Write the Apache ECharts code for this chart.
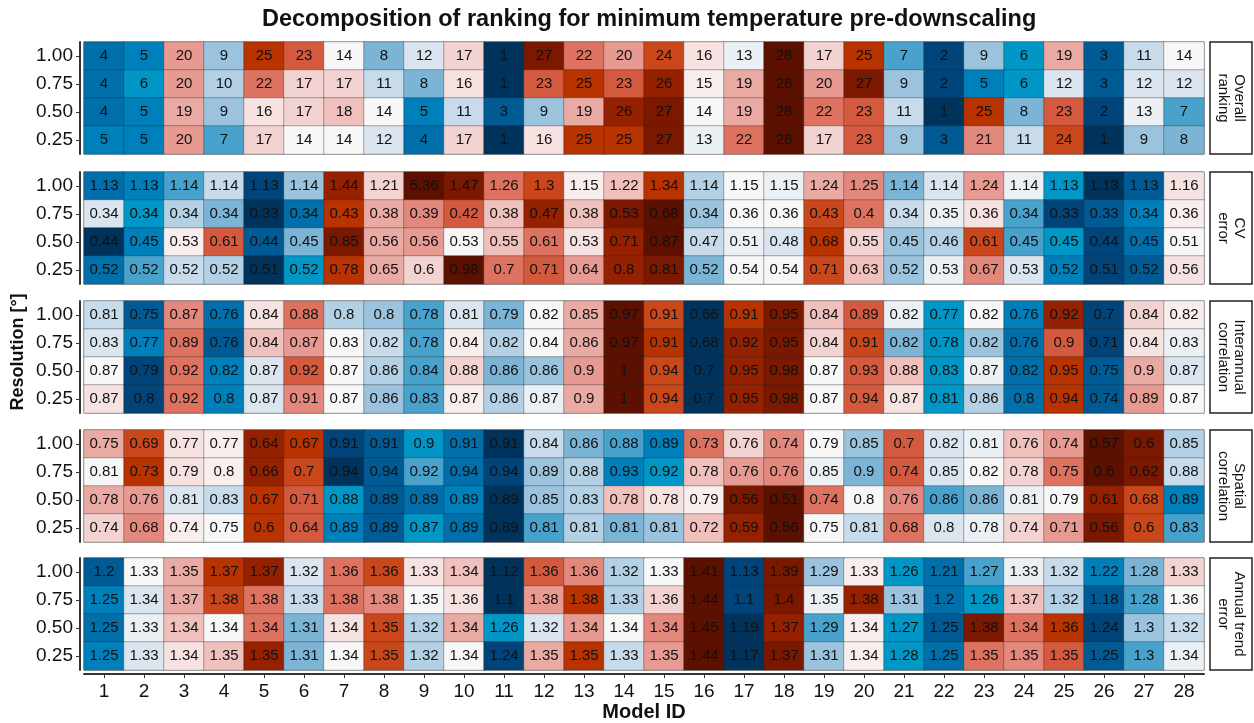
<!DOCTYPE html>
<html><head><meta charset="utf-8">
<script src="https://cdn.jsdelivr.net/npm/echarts@6/dist/echarts.min.js"></script>
<style>html,body{margin:0;padding:0;background:#fff}#c{width:1254px;height:723px}</style>
</head><body><div id="c"></div>
<script>
// ---- data ----
const modelIds = ['1','2','3','4','5','6','7','8','9','10','11','12','13','14','15','16','17','18','19','20','21','22','23','24','25','26','27','28'];
const resolutions = ['0.25','0.50','0.75','1.00']; // bottom -> top
const panelNames = ['Overall\nranking','CV\nerror','Interannual\ncorrelation','Spatial\ncorrelation','Annual trend\nerror'];
// rows listed top -> bottom: 1.00, 0.75, 0.50, 0.25
const overallRanking = [
 [4,5,20,9,25,23,14,8,12,17,1,27,22,20,24,16,13,28,17,25,7,2,9,6,19,3,11,14],
 [4,6,20,10,22,17,17,11,8,16,1,23,25,23,26,15,19,28,20,27,9,2,5,6,12,3,12,12],
 [4,5,19,9,16,17,18,14,5,11,3,9,19,26,27,14,19,28,22,23,11,1,25,8,23,2,13,7],
 [5,5,20,7,17,14,14,12,4,17,1,16,25,25,27,13,22,28,17,23,9,3,21,11,24,1,9,8]
];
const cvError = [
 [1.13,1.13,1.14,1.14,1.13,1.14,1.44,1.21,5.36,1.47,1.26,1.3,1.15,1.22,1.34,1.14,1.15,1.15,1.24,1.25,1.14,1.14,1.24,1.14,1.13,1.13,1.13,1.16],
 [0.34,0.34,0.34,0.34,0.33,0.34,0.43,0.38,0.39,0.42,0.38,0.47,0.38,0.53,0.68,0.34,0.36,0.36,0.43,0.4,0.34,0.35,0.36,0.34,0.33,0.33,0.34,0.36],
 [0.44,0.45,0.53,0.61,0.44,0.45,0.85,0.56,0.56,0.53,0.55,0.61,0.53,0.71,0.87,0.47,0.51,0.48,0.68,0.55,0.45,0.46,0.61,0.45,0.45,0.44,0.45,0.51],
 [0.52,0.52,0.52,0.52,0.51,0.52,0.78,0.65,0.6,0.98,0.7,0.71,0.64,0.8,0.81,0.52,0.54,0.54,0.71,0.63,0.52,0.53,0.67,0.53,0.52,0.51,0.52,0.56]
];
const interannualCorr = [
 [0.81,0.75,0.87,0.76,0.84,0.88,0.8,0.8,0.78,0.81,0.79,0.82,0.85,0.97,0.91,0.66,0.91,0.95,0.84,0.89,0.82,0.77,0.82,0.76,0.92,0.7,0.84,0.82],
 [0.83,0.77,0.89,0.76,0.84,0.87,0.83,0.82,0.78,0.84,0.82,0.84,0.86,0.97,0.91,0.68,0.92,0.95,0.84,0.91,0.82,0.78,0.82,0.76,0.9,0.71,0.84,0.83],
 [0.87,0.79,0.92,0.82,0.87,0.92,0.87,0.86,0.84,0.88,0.86,0.86,0.9,1,0.94,0.7,0.95,0.98,0.87,0.93,0.88,0.83,0.87,0.82,0.95,0.75,0.9,0.87],
 [0.87,0.8,0.92,0.8,0.87,0.91,0.87,0.86,0.83,0.87,0.86,0.87,0.9,1,0.94,0.7,0.95,0.98,0.87,0.94,0.87,0.81,0.86,0.8,0.94,0.74,0.89,0.87]
];
const spatialCorr = [
 [0.75,0.69,0.77,0.77,0.64,0.67,0.91,0.91,0.9,0.91,0.91,0.84,0.86,0.88,0.89,0.73,0.76,0.74,0.79,0.85,0.7,0.82,0.81,0.76,0.74,0.57,0.6,0.85],
 [0.81,0.73,0.79,0.8,0.66,0.7,0.94,0.94,0.92,0.94,0.94,0.89,0.88,0.93,0.92,0.78,0.76,0.76,0.85,0.9,0.74,0.85,0.82,0.78,0.75,0.6,0.62,0.88],
 [0.78,0.76,0.81,0.83,0.67,0.71,0.88,0.89,0.89,0.89,0.89,0.85,0.83,0.78,0.78,0.79,0.56,0.51,0.74,0.8,0.76,0.86,0.86,0.81,0.79,0.61,0.68,0.89],
 [0.74,0.68,0.74,0.75,0.6,0.64,0.89,0.89,0.87,0.89,0.89,0.81,0.81,0.81,0.81,0.72,0.59,0.56,0.75,0.81,0.68,0.8,0.78,0.74,0.71,0.56,0.6,0.83]
];
const annualTrendError = [
 [1.2,1.33,1.35,1.37,1.37,1.32,1.36,1.36,1.33,1.34,1.12,1.36,1.36,1.32,1.33,1.41,1.13,1.39,1.29,1.33,1.26,1.21,1.27,1.33,1.32,1.22,1.28,1.33],
 [1.25,1.34,1.37,1.38,1.38,1.33,1.38,1.38,1.35,1.36,1.1,1.38,1.38,1.33,1.36,1.44,1.1,1.4,1.35,1.38,1.31,1.2,1.26,1.37,1.32,1.18,1.28,1.36],
 [1.25,1.33,1.34,1.34,1.34,1.31,1.34,1.35,1.32,1.34,1.26,1.32,1.34,1.34,1.34,1.45,1.19,1.37,1.29,1.34,1.27,1.25,1.38,1.34,1.36,1.24,1.3,1.32],
 [1.25,1.33,1.34,1.35,1.35,1.31,1.34,1.35,1.32,1.34,1.24,1.35,1.35,1.33,1.35,1.44,1.17,1.37,1.31,1.34,1.28,1.25,1.35,1.35,1.35,1.25,1.3,1.34]
];
// colour rank (1 = blue ... 28 = dark red) of each cell
const cvErrorRank = [
 [4,5,7,11,2,9,26,17,28,27,22,24,15,18,25,10,14,13,19,21,8,12,20,13,6,1,3,16],
 [12,6,10,8,1,4,25,19,21,23,18,26,18,27,28,9,14,14,24,22,11,13,16,7,2,3,5,15],
 [1,5,15,23,3,8,27,19,20,14,18,22,16,26,28,11,13,12,25,17,9,10,24,7,6,2,4,14],
 [4,7,11,10,1,6,25,19,17,28,22,23,20,26,27,8,14,14,24,18,9,13,21,12,5,2,3,16]
];
const interannualCorrRank = [
 [11,3,21,4,16,22,10,9,7,12,8,14,19,28,24,1,25,27,18,23,13,6,14,5,26,2,17,15],
 [12,5,22,3,18,20,14,11,7,15,10,14,19,28,25,1,26,27,17,24,8,6,9,4,23,2,16,13],
 [14,2,22,5,12,23,14,10,7,17,8,9,20,28,24,1,26,27,14,23,18,6,13,4,25,3,19,12],
 [16,2,22,5,12,21,14,9,7,15,10,13,19,28,24,1,26,27,14,23,16,6,10,4,25,3,20,14]
];
const spatialCorrRank = [
 [19,24,16,15,26,25,2,3,6,4,1,11,8,7,5,22,17,21,14,9,23,12,13,18,20,28,27,10],
 [14,25,16,15,26,24,1,3,7,4,2,9,10,5,6,18,20,21,13,8,23,12,14,17,22,28,27,11],
 [19,20,12,11,25,23,6,3,4,5,1,9,10,18,16,15,27,28,22,14,21,7,8,13,14,26,24,5],
 [17,21,15,14,25,23,5,3,6,4,1,7,10,8,9,18,26,28,14,11,22,12,13,17,20,27,24,7]
];
const annualTrendErrorRank = [
 [3,14,19,25,26,12,22,24,16,18,1,23,21,10,14,28,2,27,9,15,6,4,7,13,11,5,8,17],
 [5,12,19,24,22,11,22,21,14,16,1,20,25,10,17,28,2,27,13,26,9,4,6,18,10,3,7,14],
 [4,13,18,14,22,8,16,24,10,19,6,12,20,14,21,28,1,26,7,15,6,3,27,22,25,2,9,11],
 [5,12,16,18,26,8,14,24,10,14,2,19,25,11,20,28,1,27,9,15,6,4,22,21,23,3,7,13]
];
const panels = [overallRanking, cvError, interannualCorr, spatialCorr, annualTrendError];
const panelRanks = [overallRanking, cvErrorRank, interannualCorrRank, spatialCorrRank, annualTrendErrorRank];

const palette = ['#00335c','#00447a','#005a94','#006faa','#0080bb','#0096c6','#48a2cc','#7bb4d5','#9bc3dd','#b3d0e4','#c8dbea','#dbe5ef','#ebf0f5','#f7f7f7','#f8eeee','#f5e2e1','#f2d3d1','#efc0bc','#eaaaa4','#e69a91','#e2887d','#dd7260','#d45a3f','#c9471b','#b83300','#962100','#7a1800','#5c1000'];

const tops = [42, 172, 301, 430, 558];
const H = 112, L = 84, W = 1120;
const FONT = '"Liberation Sans", Arial, sans-serif';

const grid=[], xAxis=[], yAxis=[], series=[], graphic=[];
panels.forEach((p,i)=>{
  const last = i===panels.length-1;
  grid.push({left:L, top:tops[i], width:W, height:H, show:true, borderColor:'#8a8a8a', borderWidth:1,
    backgroundColor:'transparent', containLabel:false, outerBoundsMode:'none'});
  xAxis.push({type:'category', gridIndex:i, data:modelIds, position:'bottom',
    axisLine:{show:last, onZero:false, lineStyle:{color:'#333', width:2}},
    axisTick:{show:last, length:4, alignWithLabel:true, lineStyle:{color:'#333'}},
    axisLabel:{show:last, fontSize:19, color:'#111', fontFamily:FONT, margin:8},
    offset: last?4:0,
    splitLine:{show:false}});
  yAxis.push({type:'category', gridIndex:i, data:resolutions, offset:4,
    axisLine:{show:true, lineStyle:{color:'#333', width:2}},
    axisTick:{show:true, length:4, alignWithLabel:true, lineStyle:{color:'#333'}},
    axisLabel:{fontSize:19, color:'#111', fontFamily:FONT, margin:7},
    splitLine:{show:false}});
  const data=[];
  p.forEach((row,r)=>{
    const ranks = panelRanks[i][r];
    const yIdx = 3 - r;
    row.forEach((v,c)=>data.push([c, yIdx, v, ranks[c]]));
  });
  series.push({type:'heatmap', xAxisIndex:i, yAxisIndex:i, data,
    itemStyle:{borderColor:'rgba(40,40,40,0.35)', borderWidth:1},
    label:{show:true, formatter:q=>String(q.value[2]), fontSize:15, color:'#111', fontFamily:FONT},
    emphasis:{disabled:true}});
  graphic.push({type:'rect', shape:{x:1210, y:tops[i], width:42, height:H}, style:{fill:'#fff', stroke:'#222', lineWidth:1.5}});
  graphic.push({type:'text', x:1231, y:tops[i]+H/2, rotation:-Math.PI/2,
    style:{text:panelNames[i], fill:'#111', font:'15px '+FONT, textAlign:'center', textVerticalAlign:'middle', lineHeight:16}});
});
// axis titles shared by all panels
graphic.push({type:'text', x:18, y:352, rotation:Math.PI/2,
  style:{text:'Resolution [°]', fill:'#111', font:'bold 18px '+FONT, textAlign:'center', textVerticalAlign:'middle'}});
graphic.push({type:'text', x:644, y:712,
  style:{text:'Model ID', fill:'#111', font:'bold 20px '+FONT, textAlign:'center', textVerticalAlign:'middle'}});

const chart = echarts.init(document.getElementById('c'), null, {renderer:'canvas'});
chart.setOption({
  backgroundColor:'#fff',
  animation:false,
  title:{text:'Decomposition of ranking for minimum temperature pre-downscaling', left:257, top:3,
    textStyle:{fontSize:23.5, fontWeight:'bold', color:'#111', fontFamily:FONT}},
  grid, xAxis, yAxis, series, graphic,
  visualMap:{type:'continuous', show:false, min:1, max:28, dimension:3, seriesIndex:[0,1,2,3,4], inRange:{color:palette}}
});
</script></body></html>
